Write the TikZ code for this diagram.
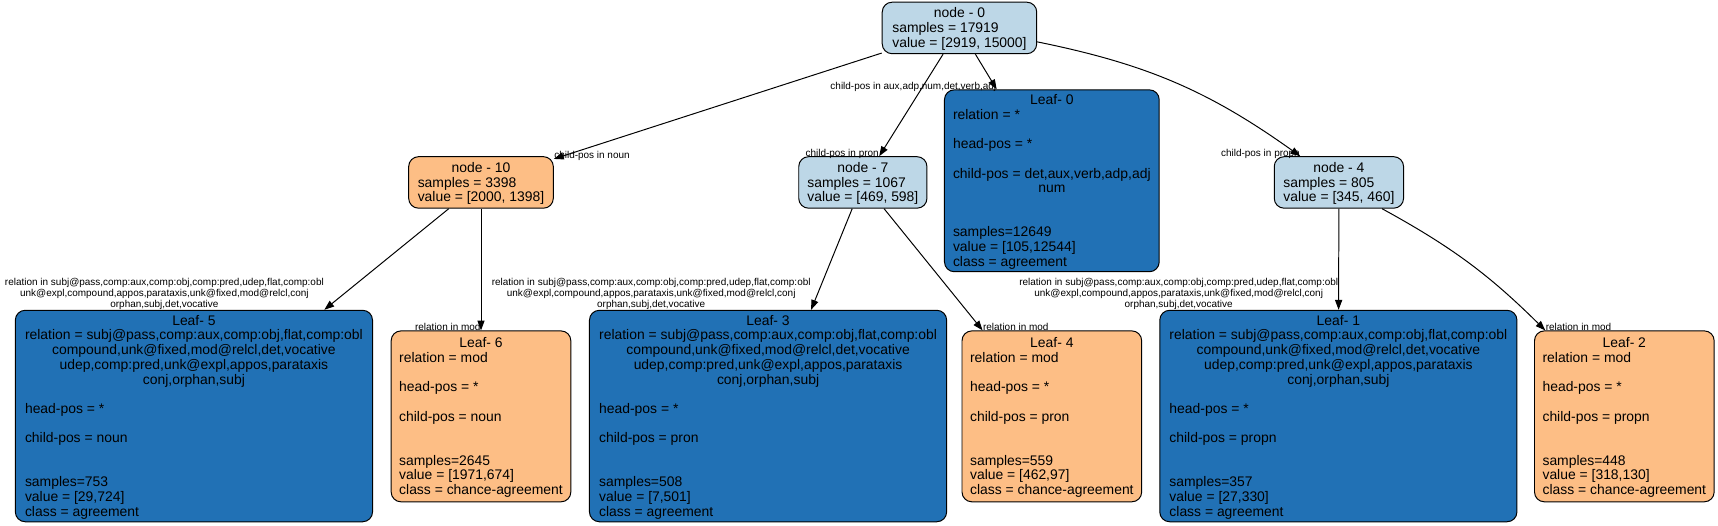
\documentclass[tikz,border=0pt]{standalone}
\usepackage{fontspec}
\setmainfont{Liberation Sans}
\usetikzlibrary{arrows.meta}
\definecolor{lb}{HTML}{BDD7E7}
\definecolor{db}{HTML}{2171B5}
\definecolor{og}{HTML}{FDBE85}
\newcommand\mc[1]{\multicolumn{1}{@{}c@{}}{#1}}
\newcommand\ttl[1]{\multicolumn{1}{@{}c@{}}{\rule{0pt}{12.6pt}#1}}
\tikzset{
  box/.style={draw=black, line width=0.9pt, rounded corners=9pt, inner sep=0pt,
    font=\fontsize{12.7}{13.4}\selectfont},
  lblue/.style={box, fill=lb, minimum height=47pt},
  dblue/.style={box, fill=db},
  orng/.style={box, fill=og},
  bigleaf/.style={dblue, minimum width=326pt, minimum height=193pt},
  smallleaf/.style={orng, minimum width=164pt, minimum height=156pt},
  elab/.style={font=\fontsize{9.1}{9.7}\selectfont, inner sep=0pt, align=center},
  edge/.style={line width=0.9pt, -{Triangle[length=9pt,width=6.5pt]}}
}
\begin{document}
\begin{tikzpicture}[x=1pt,y=-1pt]
\useasboundingbox (0,0) rectangle (1568,480);
% internal nodes
\node[lblue, minimum width=141pt] (n0) at (875.7,25.5)
  {\begin{tabular}{@{}l@{}}\ttl{node - 0}\\ samples = 17919\\ value = [2919, 15000]\end{tabular}};
\node[orng, minimum width=132pt, minimum height=47pt] (n10) at (439,166.5)
  {\begin{tabular}{@{}l@{}}\ttl{node - 10}\\ samples = 3398\\ value = [2000, 1398]\end{tabular}};
\node[lblue, minimum width=117pt] (n7) at (787.5,166.5)
  {\begin{tabular}{@{}l@{}}\ttl{node - 7}\\ samples = 1067\\ value = [469, 598]\end{tabular}};
\node[lblue, minimum width=118pt] (n4) at (1222,166.5)
  {\begin{tabular}{@{}l@{}}\ttl{node - 4}\\ samples = 805\\ value = [345, 460]\end{tabular}};
% leaf 0
\node[dblue, minimum width=196pt, minimum height=166pt] (l0) at (960,165)
  {\begin{tabular}{@{}l@{}}\ttl{Leaf- 0}\\ relation = *\\ \\ head-pos = *\\ \\
   child-pos = det,aux,verb,adp,adj\\ \mc{num}\\ \\ \\ samples=12649\\ value = [105,12544]\\ class = agreement\end{tabular}};
% bottom leaves
\node[bigleaf] (l5) at (177,379.7)
  {\begin{tabular}{@{}l@{}}\ttl{Leaf- 5}\\ relation = subj@pass,comp:aux,comp:obj,flat,comp:obl\\
   \mc{compound,unk@fixed,mod@relcl,det,vocative}\\ \mc{udep,comp:pred,unk@expl,appos,parataxis}\\
   \mc{conj,orphan,subj}\\ \\ head-pos = *\\ \\ child-pos = noun\\ \\ \\ samples=753\\ value = [29,724]\\ class = agreement\end{tabular}};
\node[smallleaf] (l6) at (439,380)
  {\begin{tabular}{@{}l@{}}\ttl{Leaf- 6}\\ relation = mod\\ \\ head-pos = *\\ \\ child-pos = noun\\ \\ \\
   samples=2645\\ value = [1971,674]\\ class = chance-agreement\end{tabular}};
\node[bigleaf] (l3) at (701,379.7)
  {\begin{tabular}{@{}l@{}}\ttl{Leaf- 3}\\ relation = subj@pass,comp:aux,comp:obj,flat,comp:obl\\
   \mc{compound,unk@fixed,mod@relcl,det,vocative}\\ \mc{udep,comp:pred,unk@expl,appos,parataxis}\\
   \mc{conj,orphan,subj}\\ \\ head-pos = *\\ \\ child-pos = pron\\ \\ \\ samples=508\\ value = [7,501]\\ class = agreement\end{tabular}};
\node[smallleaf] (l4) at (960,380)
  {\begin{tabular}{@{}l@{}}\ttl{Leaf- 4}\\ relation = mod\\ \\ head-pos = *\\ \\ child-pos = pron\\ \\ \\
   samples=559\\ value = [462,97]\\ class = chance-agreement\end{tabular}};
\node[bigleaf] (l1) at (1221.5,379.7)
  {\begin{tabular}{@{}l@{}}\ttl{Leaf- 1}\\ relation = subj@pass,comp:aux,comp:obj,flat,comp:obl\\
   \mc{compound,unk@fixed,mod@relcl,det,vocative}\\ \mc{udep,comp:pred,unk@expl,appos,parataxis}\\
   \mc{conj,orphan,subj}\\ \\ head-pos = *\\ \\ child-pos = propn\\ \\ \\ samples=357\\ value = [27,330]\\ class = agreement\end{tabular}};
\node[smallleaf] (l2) at (1482.5,380)
  {\begin{tabular}{@{}l@{}}\ttl{Leaf- 2}\\ relation = mod\\ \\ head-pos = *\\ \\ child-pos = propn\\ \\ \\
   samples=448\\ value = [318,130]\\ class = chance-agreement\end{tabular}};
% edges
\draw[edge] (n0) -- (n10) node[elab, at end, anchor=base west] (e10) {child-pos in noun};
\draw[edge] (n0) -- (n7) node[elab, at end, anchor=base east] (e7) {child-pos in pron};
\draw[edge] (n0) -- (l0) node[elab, at end, anchor=base east] (el0) {child-pos in aux,adp,num,det,verb,adj};
\draw[edge] (n0) to[bend left=12] node[elab, at end, anchor=base east] (e4) {child-pos in propn} (n4);
\draw[edge] (n10) -- (l5) node[elab, at end, anchor=south east] (el5)
  {relation in subj@pass,comp:aux,comp:obj,comp:pred,udep,flat,comp:obl\\ unk@expl,compound,appos,parataxis,unk@fixed,mod@relcl,conj\\ orphan,subj,det,vocative};
\draw[edge] (n10) -- (l6) node[elab, at end, anchor=base east] (el6) {relation in mod};
\draw[edge] (n7) -- (l3) node[elab, at end, anchor=south east] (el3)
  {relation in subj@pass,comp:aux,comp:obj,comp:pred,udep,flat,comp:obl\\ unk@expl,compound,appos,parataxis,unk@fixed,mod@relcl,conj\\ orphan,subj,det,vocative};
\draw[edge] (n7) -- (l4) node[elab, at end, anchor=base west] (el4) {relation in mod};
\draw[edge] (n4) -- (l1) node[elab, at end, anchor=south east] (el1)
  {relation in subj@pass,comp:aux,comp:obj,comp:pred,udep,flat,comp:obl\\ unk@expl,compound,appos,parataxis,unk@fixed,mod@relcl,conj\\ orphan,subj,det,vocative};
\draw[edge] (n4) to[bend left=8] node[elab, at end, anchor=base west] (el2) {relation in mod} (l2);
\end{tikzpicture}
\end{document}
